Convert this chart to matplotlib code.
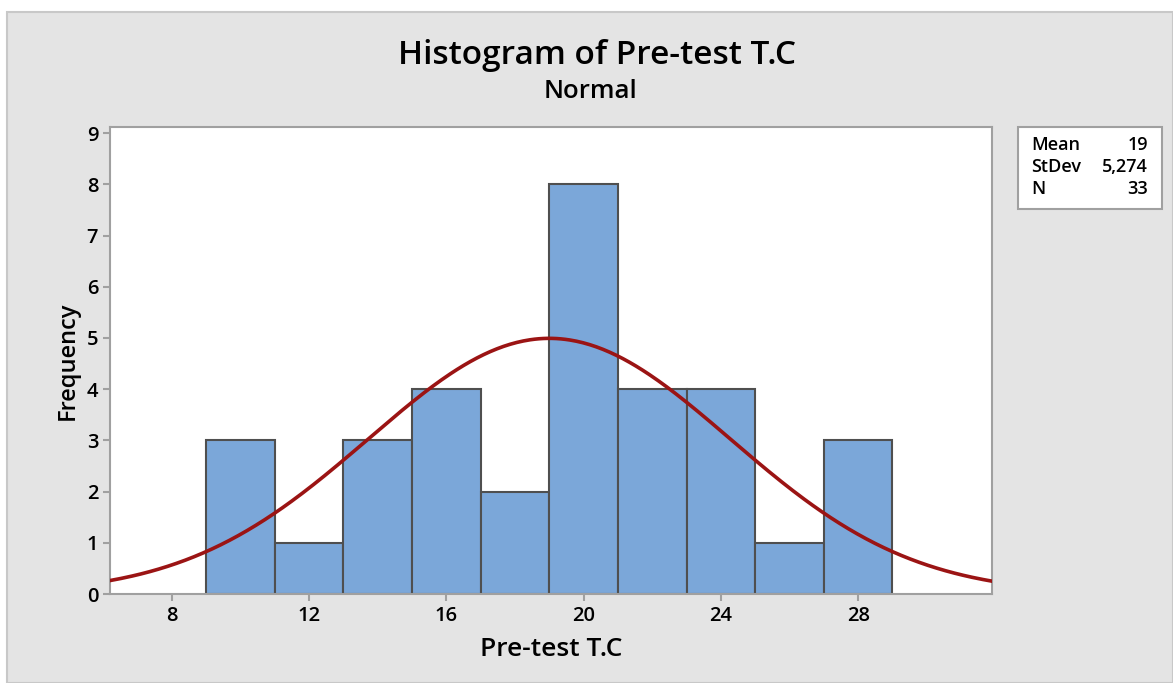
import matplotlib
matplotlib.use("Agg")
import matplotlib.pyplot as plt
from matplotlib.patches import Rectangle
import numpy as np

# histogram data
bin_edges = [9, 11, 13, 15, 17, 19, 21, 23, 25, 27, 29]
counts = [3, 1, 3, 4, 2, 8, 4, 4, 1, 3]
mean, stdev, n = 19, 5.274, 33
x_ticks = [8, 12, 16, 20, 24, 28]
y_ticks = [0, 1, 2, 3, 4, 5, 6, 7, 8, 9]

plt.rcParams['font.family'] = ['Open Sans', 'DejaVu Sans']
plt.rcParams['font.weight'] = 'semibold'
plt.rcParams['axes.labelweight'] = 'semibold'

fig = plt.figure(figsize=(11.73, 6.83), dpi=100)
fig.patch.set_facecolor('white')
# grey panel behind everything
fig.patches.append(Rectangle((7 / 1173, 0), 1 - 7 / 1173, 1 - 12 / 683,
                             transform=fig.transFigure, facecolor='#e4e4e4',
                             edgecolor='#c8c8c8', linewidth=1.5, zorder=-10))

ax = fig.add_axes([110 / 1173, 1 - 594 / 683, (992 - 110) / 1173, (594 - 127) / 683])
ax.set_facecolor('white')

widths = np.diff(bin_edges)
ax.bar(bin_edges[:-1], counts, width=widths, align='edge',
       color='#7ba7d9', edgecolor='#4f4f4f', linewidth=1.5, zorder=2)

# fitted normal curve scaled to counts
xs = np.linspace(6.2, 31.9, 400)
bw = widths[0]
ys = n * bw / (stdev * np.sqrt(2 * np.pi)) * np.exp(-0.5 * ((xs - mean) / stdev) ** 2)
ax.plot(xs, ys, color='#9b1414', linewidth=2.6, zorder=3)

ax.set_xlim(6.2, 31.9)
ax.set_ylim(0, 9.12)
ax.set_xticks(x_ticks)
ax.set_yticks(y_ticks)
ax.tick_params(axis='both', colors='#a0a0a0', labelcolor='black',
               labelsize=14.5, length=5, width=1.5, direction='out')
for s in ax.spines.values():
    s.set_color('#a0a0a0')
    s.set_linewidth(1.5)

ax.set_xlabel('Pre-test T.C', fontsize=19, labelpad=8)
ax.set_ylabel('Frequency', fontsize=17, labelpad=5)

fig.text(597 / 1173, 1 - 55 / 683, 'Histogram of Pre-test T.C', fontsize=24,
         ha='center', va='center')
fig.text(591 / 1173, 1 - 91 / 683, 'Normal', fontsize=18.5,
         ha='center', va='center')

# stats box
fig.patches.append(Rectangle((1018 / 1173, 1 - 209 / 683), 144 / 1173, 82 / 683,
                             transform=fig.transFigure, facecolor='white',
                             edgecolor='#a0a0a0', linewidth=1.5))
labels = ['Mean', 'StDev', 'N']
values = ['19', '5,274', '33']
for i, (lab, val) in enumerate(zip(labels, values)):
    y = 1 - (145 + i * 22) / 683
    fig.text(1031 / 1173, y, lab, fontsize=13, ha='left', va='center')
    fig.text(1148 / 1173, y, val, fontsize=13, ha='right', va='center')

fig.savefig('out.png', dpi=100)
